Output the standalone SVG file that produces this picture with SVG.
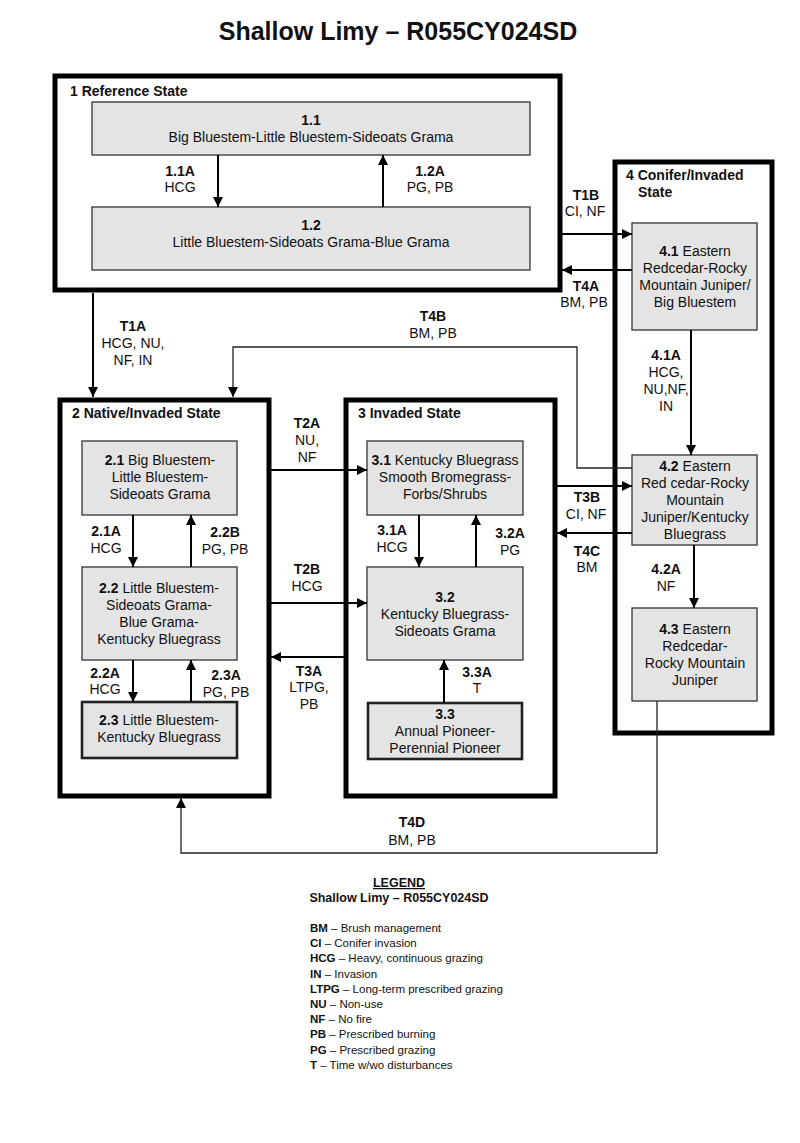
<svg xmlns="http://www.w3.org/2000/svg" width="800" height="1143" viewBox="0 0 800 1143">
<style>
text{font-family:"Liberation Sans",Arial,sans-serif;fill:#111}
.title{font-size:25px;font-weight:bold}
.st{font-size:14px;font-weight:bold}
.n{font-size:14px;text-anchor:middle}
.b{font-weight:bold}
.lb{font-size:14px;text-anchor:middle}
.lg{font-size:11.5px}
.lgh{font-size:12.5px;font-weight:bold;text-anchor:middle}
.state{fill:none;stroke:#000;stroke-width:5}
.node{fill:#e4e4e4;stroke:#333;stroke-width:1.3}
.node2{fill:#e4e4e4;stroke:#222;stroke-width:2.6}
.a{fill:none;stroke:#000;stroke-width:2;marker-end:url(#ah)}
.t{fill:none;stroke:#222;stroke-width:1.3;marker-end:url(#ah)}
</style>
<defs>
<marker id="ah" viewBox="0 0 10 10" refX="10" refY="5" markerWidth="10" markerHeight="10" markerUnits="userSpaceOnUse" orient="auto">
<path d="M0,0 L10,5 L0,10 z" fill="#000"/>
</marker>
</defs>
<rect width="800" height="1143" fill="#fff"/>
<text class="title" x="398" y="40" text-anchor="middle">Shallow Limy – R055CY024SD</text>

<g id="state1">
<rect class="state" x="55" y="76" width="505" height="214"/>
<text class="st" x="70" y="96">1 Reference State</text>
</g>
<g id="n11">
<rect class="node" x="92" y="102" width="438" height="53"/>
<text class="n" x="311" y="125"><tspan class="b">1.1</tspan></text>
<text class="n" x="311" y="142">Big Bluestem-Little Bluestem-Sideoats Grama</text>
</g>
<g id="n12">
<rect class="node" x="92" y="207" width="438" height="63"/>
<text class="n" x="311" y="230"><tspan class="b">1.2</tspan></text>
<text class="n" x="311" y="247">Little Bluestem-Sideoats Grama-Blue Grama</text>
</g>

<g id="state2">
<rect class="state" x="60" y="400" width="209" height="396"/>
<text class="st" x="72" y="418">2 Native/Invaded State</text>
</g>
<g id="n21">
<rect class="node" x="82" y="441" width="155" height="74"/>
<text class="n" x="160" y="465"><tspan class="b">2.1</tspan> Big Bluestem-</text>
<text class="n" x="160" y="482">Little Bluestem-</text>
<text class="n" x="160" y="499">Sideoats Grama</text>
</g>
<g id="n22">
<rect class="node" x="82" y="567" width="155" height="93"/>
<text class="n" x="159" y="593"><tspan class="b">2.2</tspan>  Little Bluestem-</text>
<text class="n" x="159" y="610">Sideoats Grama-</text>
<text class="n" x="159" y="627">Blue Grama-</text>
<text class="n" x="159" y="644">Kentucky Bluegrass</text>
</g>
<g id="n23">
<rect class="node2" x="82" y="702" width="155" height="56"/>
<text class="n" x="159" y="725"><tspan class="b">2.3</tspan> Little Bluestem-</text>
<text class="n" x="159" y="742">Kentucky Bluegrass</text>
</g>

<g id="state3">
<rect class="state" x="346" y="400" width="209" height="396"/>
<text class="st" x="358" y="418">3 Invaded State</text>
</g>
<g id="n31">
<rect class="node" x="367" y="441" width="156" height="74"/>
<text class="n" x="445" y="465"><tspan class="b">3.1</tspan> Kentucky Bluegrass</text>
<text class="n" x="445" y="482">Smooth Bromegrass-</text>
<text class="n" x="445" y="499">Forbs/Shrubs</text>
</g>
<g id="n32">
<rect class="node" x="367" y="567" width="156" height="93"/>
<text class="n" x="445" y="602"><tspan class="b">3.2</tspan></text>
<text class="n" x="445" y="619">Kentucky Bluegrass-</text>
<text class="n" x="445" y="636">Sideoats Grama</text>
</g>
<g id="n33">
<rect class="node2" x="368" y="703" width="154" height="56"/>
<text class="n" x="445" y="719"><tspan class="b">3.3</tspan></text>
<text class="n" x="445" y="736">Annual Pioneer-</text>
<text class="n" x="445" y="753">Perennial Pioneer</text>
</g>

<g id="state4">
<rect class="state" x="615" y="162" width="157" height="571"/>
<text class="st" x="626" y="180">4 Conifer/Invaded</text>
<text class="st" x="638" y="197">State</text>
</g>
<g id="n41">
<rect class="node" x="632" y="223" width="125" height="107"/>
<text class="n" x="695" y="256"><tspan class="b">4.1</tspan> Eastern</text>
<text class="n" x="695" y="273">Redcedar-Rocky</text>
<text class="n" x="695" y="290">Mountain Juniper/</text>
<text class="n" x="695" y="307">Big Bluestem</text>
</g>
<g id="n42">
<rect class="node" x="632" y="455" width="125" height="90"/>
<text class="n" x="695" y="471"><tspan class="b">4.2</tspan> Eastern</text>
<text class="n" x="695" y="488">Red cedar-Rocky</text>
<text class="n" x="695" y="505">Mountain</text>
<text class="n" x="695" y="522">Juniper/Kentucky</text>
<text class="n" x="695" y="539">Bluegrass</text>
</g>
<g id="n43">
<rect class="node" x="632" y="608" width="125" height="93"/>
<text class="n" x="695" y="634"><tspan class="b">4.3</tspan> Eastern</text>
<text class="n" x="695" y="651">Redcedar-</text>
<text class="n" x="695" y="668">Rocky Mountain</text>
<text class="n" x="695" y="685">Juniper</text>
</g>

<g id="connectors">
<line class="a" x1="218" y1="155" x2="218" y2="207"/>
<line class="a" x1="383" y1="207" x2="383" y2="155"/>
<line class="a" x1="93" y1="293" x2="93" y2="397"/>
<line class="a" x1="562" y1="234" x2="632" y2="234"/>
<line class="a" x1="632" y1="270" x2="562" y2="270"/>
<polyline class="t" points="632,468 577,468 577,347 233,347 233,397"/>
<line class="a" x1="691" y1="330" x2="691" y2="455"/>
<line class="a" x1="271" y1="470" x2="367" y2="470"/>
<line class="a" x1="271" y1="603" x2="367" y2="603"/>
<line class="a" x1="344" y1="657" x2="271" y2="657"/>
<line class="a" x1="557" y1="486" x2="632" y2="486"/>
<line class="a" x1="632" y1="533" x2="557" y2="533"/>
<line class="a" x1="694" y1="545" x2="694" y2="608"/>
<line class="a" x1="133" y1="515" x2="133" y2="567"/>
<line class="a" x1="191" y1="567" x2="191" y2="515"/>
<line class="a" x1="133" y1="660" x2="133" y2="702"/>
<line class="a" x1="191" y1="702" x2="191" y2="660"/>
<line class="a" x1="419" y1="515" x2="419" y2="567"/>
<line class="a" x1="476" y1="567" x2="476" y2="515"/>
<line class="a" x1="444" y1="703" x2="444" y2="660"/>
<polyline class="t" points="657,701 657,853 181,853 181,798"/>
</g>

<g id="labels">
<text class="lb" x="180" y="176"><tspan class="b">1.1A</tspan></text>
<text class="lb" x="180" y="192">HCG</text>
<text class="lb" x="430" y="176"><tspan class="b">1.2A</tspan></text>
<text class="lb" x="430" y="192">PG, PB</text>
<text class="lb" x="133" y="331"><tspan class="b">T1A</tspan></text>
<text class="lb" x="133" y="348">HCG, NU,</text>
<text class="lb" x="133" y="365">NF, IN</text>
<text class="lb" x="586" y="200"><tspan class="b">T1B</tspan></text>
<text class="lb" x="585" y="216">CI, NF</text>
<text class="lb" x="586" y="291"><tspan class="b">T4A</tspan></text>
<text class="lb" x="584" y="307">BM, PB</text>
<text class="lb" x="433" y="321"><tspan class="b">T4B</tspan></text>
<text class="lb" x="433" y="338">BM, PB</text>
<text class="lb" x="666" y="360"><tspan class="b">4.1A</tspan></text>
<text class="lb" x="666" y="377">HCG,</text>
<text class="lb" x="666" y="394">NU,NF,</text>
<text class="lb" x="666" y="411">IN</text>
<text class="lb" x="307" y="428"><tspan class="b">T2A</tspan></text>
<text class="lb" x="307" y="445">NU,</text>
<text class="lb" x="307" y="462">NF</text>
<text class="lb" x="307" y="574"><tspan class="b">T2B</tspan></text>
<text class="lb" x="307" y="591">HCG</text>
<text class="lb" x="309" y="676"><tspan class="b">T3A</tspan></text>
<text class="lb" x="309" y="692">LTPG,</text>
<text class="lb" x="309" y="709">PB</text>
<text class="lb" x="587" y="502"><tspan class="b">T3B</tspan></text>
<text class="lb" x="586" y="519">CI, NF</text>
<text class="lb" x="587" y="556"><tspan class="b">T4C</tspan></text>
<text class="lb" x="587" y="572">BM</text>
<text class="lb" x="666" y="574"><tspan class="b">4.2A</tspan></text>
<text class="lb" x="666" y="591">NF</text>
<text class="lb" x="106" y="536"><tspan class="b">2.1A</tspan></text>
<text class="lb" x="106" y="553">HCG</text>
<text class="lb" x="225" y="537"><tspan class="b">2.2B</tspan></text>
<text class="lb" x="225" y="554">PG, PB</text>
<text class="lb" x="105" y="678"><tspan class="b">2.2A</tspan></text>
<text class="lb" x="105" y="694">HCG</text>
<text class="lb" x="226" y="680"><tspan class="b">2.3A</tspan></text>
<text class="lb" x="226" y="697">PG, PB</text>
<text class="lb" x="392" y="535"><tspan class="b">3.1A</tspan></text>
<text class="lb" x="392" y="552">HCG</text>
<text class="lb" x="510" y="538"><tspan class="b">3.2A</tspan></text>
<text class="lb" x="510" y="555">PG</text>
<text class="lb" x="477" y="677"><tspan class="b">3.3A</tspan></text>
<text class="lb" x="477" y="693">T</text>
<text class="lb" x="412" y="827"><tspan class="b">T4D</tspan></text>
<text class="lb" x="412" y="845">BM, PB</text>
</g>

<g id="legend">
<text class="lgh" x="399" y="887" text-decoration="underline">LEGEND</text>
<text class="lgh" x="399" y="902">Shallow Limy – R055CY024SD</text>
<text class="lg" x="310" y="932"><tspan class="b">BM</tspan> – Brush management</text>
<text class="lg" x="310" y="947"><tspan class="b">CI</tspan> – Conifer invasion</text>
<text class="lg" x="310" y="962"><tspan class="b">HCG</tspan> – Heavy, continuous grazing</text>
<text class="lg" x="310" y="978"><tspan class="b">IN</tspan> – Invasion</text>
<text class="lg" x="310" y="993"><tspan class="b">LTPG</tspan> – Long-term prescribed grazing</text>
<text class="lg" x="310" y="1008"><tspan class="b">NU</tspan> – Non-use</text>
<text class="lg" x="310" y="1023"><tspan class="b">NF</tspan> – No fire</text>
<text class="lg" x="310" y="1038"><tspan class="b">PB</tspan> – Prescribed burning</text>
<text class="lg" x="310" y="1054"><tspan class="b">PG</tspan> – Prescribed grazing</text>
<text class="lg" x="310" y="1069"><tspan class="b">T</tspan> – Time w/wo disturbances</text>
</g>
</svg>
